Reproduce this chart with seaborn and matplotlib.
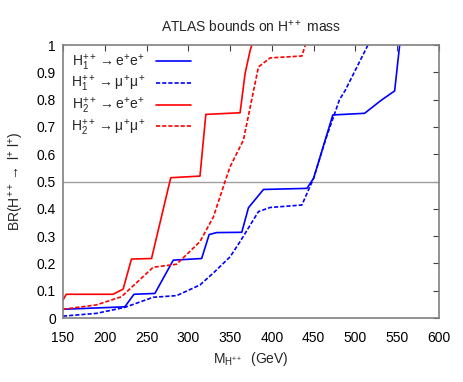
import numpy as np
import pandas as pd
import matplotlib
matplotlib.use("Agg")
import matplotlib.pyplot as plt
import seaborn as sns

sns.set_theme(style="white")
plt.rcParams['font.family'] = ['Liberation Sans', 'DejaVu Sans']
plt.rcParams['mathtext.fontset'] = 'custom'
plt.rcParams['mathtext.rm'] = 'Liberation Sans'
plt.rcParams['mathtext.it'] = 'Liberation Sans'

# H1++ -> e+e+
h1_ee_m = [150, 224, 235, 260, 282, 316, 325, 334, 364, 372, 390, 442, 450, 473, 511, 531, 547, 553]
h1_ee_br = [0.032, 0.041, 0.087, 0.090, 0.212, 0.218, 0.306, 0.313, 0.314, 0.404, 0.471, 0.475, 0.512, 0.744, 0.750, 0.798, 0.832, 1.0]
# H1++ -> mu+mu+
h1_mm_m = [150, 190, 224, 258, 286, 314, 330, 350, 362, 384, 398, 436, 450, 465, 481, 488, 515]
h1_mm_br = [0.007, 0.017, 0.039, 0.076, 0.082, 0.121, 0.165, 0.224, 0.280, 0.390, 0.405, 0.414, 0.512, 0.660, 0.800, 0.835, 1.0]
# H2++ -> e+e+
h2_ee_m = [150, 154, 210, 222, 232, 256, 279, 314, 321, 362, 368, 374, 376]
h2_ee_br = [0.066, 0.087, 0.087, 0.106, 0.216, 0.218, 0.514, 0.520, 0.746, 0.752, 0.896, 0.98, 1.0]
# H2++ -> mu+mu+
h2_mm_m = [150, 190, 220, 258, 286, 314, 330, 344, 350, 366, 384, 398, 436, 440]
h2_mm_br = [0.032, 0.048, 0.078, 0.186, 0.197, 0.280, 0.370, 0.500, 0.554, 0.652, 0.920, 0.953, 0.960, 1.0]

labels = [r"H$_1^{++}$$\rightarrow$e$^{+}$e$^{+}$",
          r"H$_1^{++}$$\rightarrow$$\mu^{+}\mu^{+}$",
          r"H$_2^{++}$$\rightarrow$e$^{+}$e$^{+}$",
          r"H$_2^{++}$$\rightarrow$$\mu^{+}\mu^{+}$"]

fig = plt.figure(figsize=(4.63, 3.82), dpi=100)
ax = fig.add_axes([0.136, 0.1675, 0.812, 0.7145])

ax.axhline(0.5, color="#a0a0a0", lw=1.0, zorder=1)

series = [(h1_ee_m, h1_ee_br, "#0000ff", "-"),
          (h1_mm_m, h1_mm_br, "#0000ff", (0, (2.5, 1.2))),
          (h2_ee_m, h2_ee_br, "#ff0000", "-"),
          (h2_mm_m, h2_mm_br, "#ff0000", (0, (2.5, 1.2)))]
for (m, br, c, ls), lab in zip(series, labels):
    sns.lineplot(x=m, y=br, ax=ax, color=c, lw=1.2, label=lab, sort=False)
    ax.lines[-1].set_linestyle(ls)

ax.set_xlim(150, 600)
ax.set_ylim(0, 1)
ax.set_xticks(np.arange(150, 601, 50))
ax.set_yticks(np.arange(0, 1.01, 0.1))
ax.set_yticklabels(["0", "0.1", "0.2", "0.3", "0.4", "0.5", "0.6", "0.7", "0.8", "0.9", "1"])
ax.tick_params(direction="in", length=4, width=0.8, color="#404040",
               top=True, right=True, labelsize=10, labelcolor="black")
ax.tick_params(axis="x", pad=9)
ax.tick_params(axis="y", pad=5)
for s in ax.spines.values():
    s.set_color("#808080")
    s.set_linewidth(1.2)

ax.set_title(r"ATLAS bounds on H$^{++}$ mass", fontsize=10, pad=10)
ax.set_xlabel(r"M$_{\mathrm{H}^{++}}$  (GeV)", fontsize=10, labelpad=4)
ax.set_ylabel(r"BR(H$^{++}$$\rightarrow$ l$^{+}$ l$^{+}$)", fontsize=10, labelpad=8)

leg = ax.legend(loc="upper left", frameon=False, markerfirst=False, fontsize=10,
                handlelength=2.5, labelspacing=0.12, borderaxespad=0.15, handletextpad=0.8)
for t in leg.get_texts():
    t.set_ha("left")

fig.savefig("out.png", dpi=100)
